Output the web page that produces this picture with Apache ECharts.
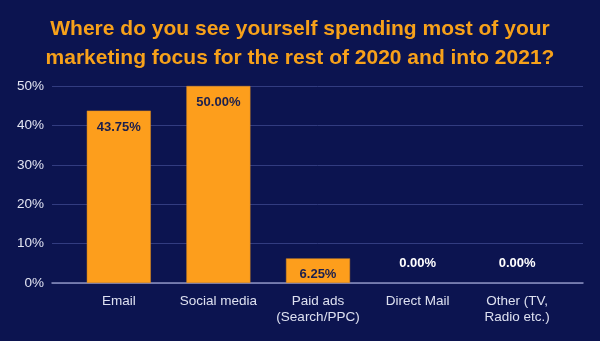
<!DOCTYPE html>
<html><head><meta charset="utf-8">
<script src="https://cdn.jsdelivr.net/npm/echarts@6/dist/echarts.min.js"></script>
<style>html,body{margin:0;padding:0;background:#0c1450;}#c{width:600px;height:341px;}</style>
</head><body><div id="c"></div>
<script>
const titleText = "Where do you see yourself spending most of your\nmarketing focus for the rest of 2020 and into 2021?";
const categories = ["Email", "Social media", "Paid ads\n(Search/PPC)", "Direct Mail", "Other (TV,\nRadio etc.)"];
const values = [43.75, 50.00, 6.25, 0.00, 0.00];
const yTicks = [0, 10, 20, 30, 40, 50];

const chart = echarts.init(document.getElementById('c'), null, {renderer: 'canvas'});
const font = 'Liberation Sans, Arial, sans-serif';
chart.setOption({
  backgroundColor: '#0c1450',
  animation: false,
  title: {
    text: titleText, left: 'center', top: 10,
    textStyle: {color: '#f7a11a', fontSize: 21, fontWeight: 'bold', fontFamily: font, lineHeight: 29}
  },
  grid: [
    {left: 52, right: 17, top: 86, bottom: 58},
    {left: 69, right: 33, top: 86, bottom: 58}
  ],
  xAxis: [
    {gridIndex: 0, type: 'value', min: 0, max: 1, show: true,
     axisLabel: {show: false}, axisTick: {show: false}, splitLine: {show: false},
     axisLine: {show: true, lineStyle: {color: '#8c91c0', width: 1.5}}},
    {gridIndex: 1, type: 'category', data: categories,
     axisLine: {show: false}, axisTick: {show: false},
     axisLabel: {color: '#dde0f0', fontSize: 13.5, fontFamily: font, lineHeight: 16, margin: 10, interval: 0}}
  ],
  yAxis: [
    {gridIndex: 0, type: 'value', min: 0, max: 50, interval: 10,
     axisLabel: {color: '#e2e4f2', fontSize: 13.5, fontFamily: font, margin: 8,
       formatter: v => yTicks.includes(v) ? v + '%' : ''},
     axisLine: {show: false}, axisTick: {show: false},
     splitLine: {lineStyle: {color: '#323c80', width: 1}}},
    {gridIndex: 1, type: 'value', min: 0, max: 50, interval: 10, show: false}
  ],
  series: [{
    type: 'bar', xAxisIndex: 1, yAxisIndex: 1,
    data: values.map(v => ({
      value: v,
      itemStyle: v > 0 ? {} : {borderWidth: 0, color: 'rgba(0,0,0,0)'},
      label: v > 0 ? {position: 'insideTop', distance: 10, color: '#1a1f4e'} : {position: 'top', distance: 13, color: '#ffffff'}
    })),
    barWidth: 64,
    itemStyle: {color: '#fd9e1c', borderColor: '#d98a20', borderWidth: 0.5},
    label: {show: true, fontSize: 13, fontWeight: 'bold', fontFamily: font,
      formatter: p => p.value.toFixed(2) + '%'}
  }]
});
</script></body></html>
